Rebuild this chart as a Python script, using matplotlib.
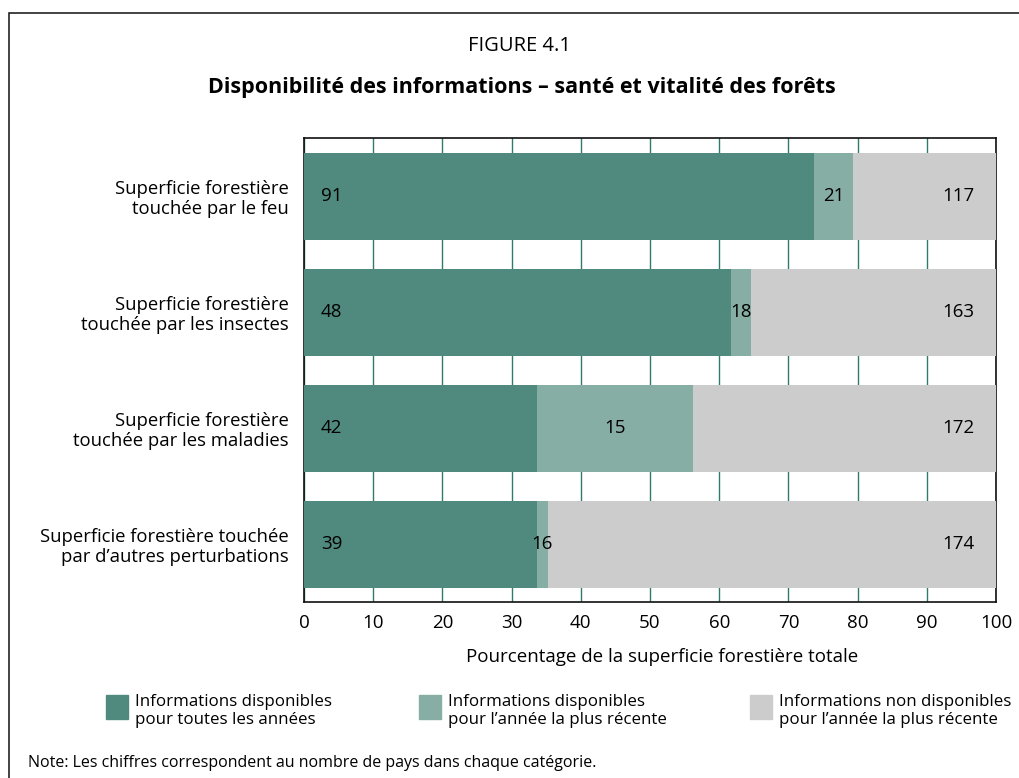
import matplotlib
matplotlib.use("Agg")
import matplotlib.pyplot as plt
from matplotlib.patches import Rectangle
import numpy as np

# ── Données ─────────────────────────────────────────────
categories = [
    "Superficie forestière\ntouchée par le feu",
    "Superficie forestière\ntouchée par les insectes",
    "Superficie forestière\ntouchée par les maladies",
    "Superficie forestière touchée\npar d’autres perturbations",
]
# pourcentage de la superficie forestière totale
pct_all_years = [73.7, 61.7, 33.7, 33.6]
pct_recent = [5.7, 2.9, 22.5, 1.7]
pct_none = [20.6, 35.4, 43.8, 64.7]
# nombre de pays
n_all_years = [91, 48, 42, 39]
n_recent = [21, 18, 15, 16]
n_none = [117, 163, 172, 174]

legend_labels = [
    "Informations disponibles\npour toutes les années",
    "Informations disponibles\npour l’année la plus récente",
    "Informations non disponibles\npour l’année la plus récente",
]

# ── Style ───────────────────────────────────────────────
C_DARK = "#508A7E"
C_LIGHT = "#86AEA5"
C_GREY = "#CCCCCC"
C_GRID = "#2E7A6B"
FONT = ["Open Sans", "DejaVu Sans"]
plt.rcParams["font.family"] = FONT

fig = plt.figure(figsize=(10.19, 7.78), dpi=100)
W, H = 1019, 778

def fx(px):
    return px / W

def fy(py):
    return 1 - py / H

# cadre de la figure
fig.add_artist(Rectangle((fx(9), fy(800)), fx(1100), fy(13) - fy(800),
                         transform=fig.transFigure, fill=False,
                         edgecolor="#222222", linewidth=1.2))

fig.text(fx(520), fy(46), "FIGURE 4.1", ha="center", va="center", fontsize=14.5)
fig.text(fx(522), fy(88), "Disponibilité des informations – santé et vitalité des forêts",
         ha="center", va="center", fontsize=15.5, fontweight="bold")

ax = fig.add_axes([fx(304), fy(602), fx(996) - fx(304), fy(138) - fy(602)])

y = np.arange(len(categories))
h = 0.75
left2 = np.array(pct_all_years)
left3 = left2 + np.array(pct_recent)
ax.barh(y, pct_all_years, height=h, color=C_DARK, zorder=3)
ax.barh(y, pct_recent, left=left2, height=h, color=C_LIGHT, zorder=3)
ax.barh(y, pct_none, left=left3, height=h, color=C_GREY, zorder=3)

for i in range(len(categories)):
    ax.text(4.0, y[i], str(n_all_years[i]), ha="center", va="center", fontsize=13.5, zorder=4)
    ax.text(left2[i] + pct_recent[i] / 2, y[i], str(n_recent[i]), ha="center", va="center",
            fontsize=13.5, zorder=4)
    ax.text(94.5, y[i], str(n_none[i]), ha="center", va="center", fontsize=13.5, zorder=4)

ax.set_xlim(0, 100)
ax.set_ylim(len(categories) - 0.5, -0.5)
ax.set_xticks(np.arange(0, 101, 10))
ax.set_yticks(y)
ax.set_yticklabels(categories, fontsize=13.3, linespacing=1.15)
ax.tick_params(axis="x", length=0, pad=9, labelsize=13.5)
ax.tick_params(axis="y", length=0, pad=11)
for lbl in ax.get_yticklabels():
    lbl.set_multialignment("right")
ax.xaxis.grid(True, color=C_GRID, linewidth=1.0, zorder=0)
ax.set_axisbelow(True)
for sp in ax.spines.values():
    sp.set_color("#111111")
    sp.set_linewidth(1.2)

fig.text(fx(662), fy(657), "Pourcentage de la superficie forestière totale",
         ha="center", va="center", fontsize=13.5)

# légende
leg_x = [106, 419, 750]
for px, col, lab in zip(leg_x, [C_DARK, C_LIGHT, C_GREY], legend_labels):
    fig.add_artist(Rectangle((fx(px), fy(719)), fx(22), fy(695) - fy(719),
                             transform=fig.transFigure, color=col))
    fig.text(fx(px + 29), fy(711), lab, ha="left", va="center", fontsize=12.2, linespacing=1.1)

fig.text(fx(28), fy(763), "Note: Les chiffres correspondent au nombre de pays dans chaque catégorie.",
         ha="left", va="center", fontsize=11.5)

fig.savefig("out.png", dpi=100)
